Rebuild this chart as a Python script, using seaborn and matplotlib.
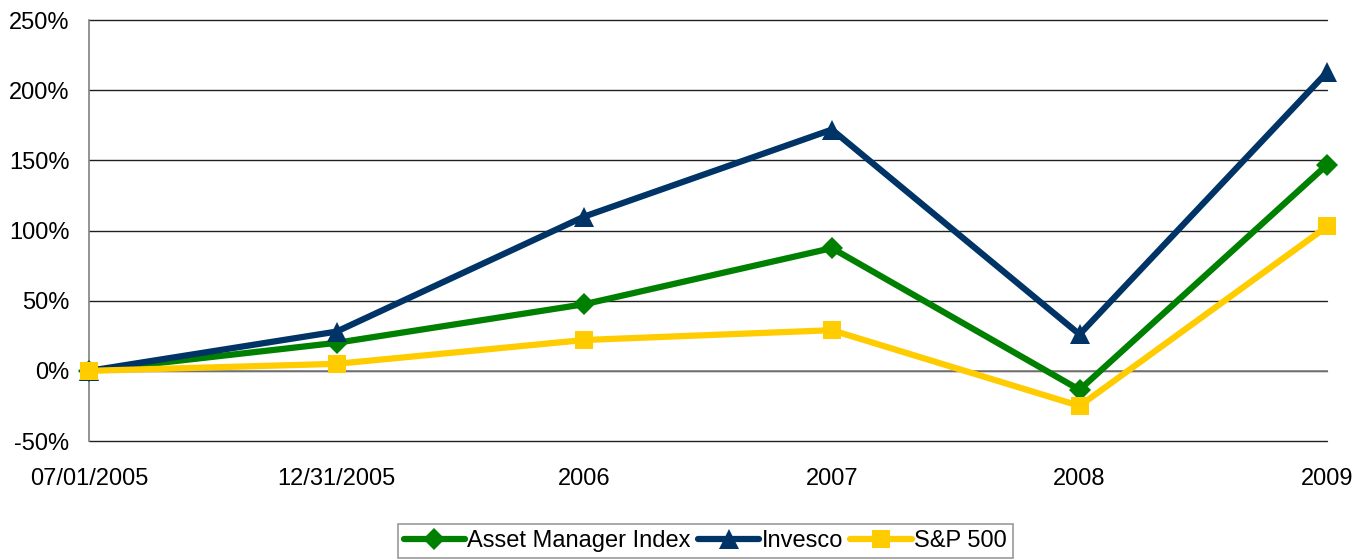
import pandas as pd
import matplotlib.pyplot as plt
import seaborn as sns
from matplotlib.ticker import PercentFormatter

categories = ["07/01/2005", "12/31/2005", "2006", "2007", "2008", "2009"]
asset_manager = [0.0, 20.0, 47.5, 87.5, -13.5, 147.0]
invesco = [0.0, 28.0, 110.0, 172.0, 26.0, 213.0]
sp500 = [0.0, 5.0, 22.0, 29.0, -25.0, 103.0]

sns.set_theme(style="white")
plt.rcParams["font.family"] = ["Liberation Sans", "DejaVu Sans"]
plt.rcParams["axes.unicode_minus"] = False
plt.rcParams["text.color"] = "black"

df = pd.DataFrame({
    "pos": list(range(len(categories))) * 3,
    "value": asset_manager + invesco + sp500,
    "series": ["Asset Manager Index"] * 6 + ["Invesco"] * 6 + ["S&P 500"] * 6,
})

colors = {"Asset Manager Index": "#008000", "Invesco": "#003366", "S&P 500": "#FFCC00"}
markers = {"Asset Manager Index": "D", "Invesco": "^", "S&P 500": "s"}
msize = {"Asset Manager Index": 11, "Invesco": 14.5, "S&P 500": 13}

fig = plt.figure(figsize=(13.54, 5.6), dpi=100)
ax = fig.add_axes([0.0657, 0.2125, 0.9145, 0.7515])

for name in ["Asset Manager Index", "Invesco", "S&P 500"]:
    sub = df[df["series"] == name]
    sns.lineplot(data=sub, x="pos", y="value", color=colors[name], marker=markers[name],
                 markersize=msize[name], markeredgewidth=0, linewidth=4.5, label=name,
                 ax=ax, clip_on=False, zorder=3)

ax.set_xlim(0, len(categories) - 1)
ax.set_ylim(-50, 250)
ax.set_yticks(range(-50, 251, 50))
ax.yaxis.set_major_formatter(PercentFormatter(decimals=0))
ax.set_xticks(range(len(categories)))
ax.set_xticklabels(categories)
ax.set_xlabel("")
ax.set_ylabel("")

ax.grid(axis="y", color="#202020", linewidth=1.0)
ax.grid(axis="x", visible=False)
for gl in ax.get_ygridlines():
    gl.set_clip_on(False)
for s in ["top", "right"]:
    ax.spines[s].set_visible(False)
ax.spines["left"].set_color("#808080")
ax.spines["left"].set_linewidth(1.2)
ax.spines["bottom"].set_position(("data", 0))
ax.spines["bottom"].set_color("#808080")
ax.spines["bottom"].set_linewidth(1.2)

ax.tick_params(axis="y", length=5, color="#808080", direction="out",
               labelsize=17, labelcolor="black", pad=9)
ax.tick_params(axis="x", length=5, color="#808080", direction="out", labelsize=17,
               labelcolor="black", pad=65)

leg = ax.legend(loc="upper center", bbox_to_anchor=(0.4976, -0.198), ncol=3, frameon=True,
                fontsize=17, handlelength=2.6, handletextpad=0.1, columnspacing=0.3,
                borderpad=0.25, borderaxespad=0, fancybox=False, edgecolor="#808080")
leg.get_frame().set_linewidth(1.2)
for t in leg.get_texts():
    t.set_color("black")

fig.savefig("out.png", dpi=100)
